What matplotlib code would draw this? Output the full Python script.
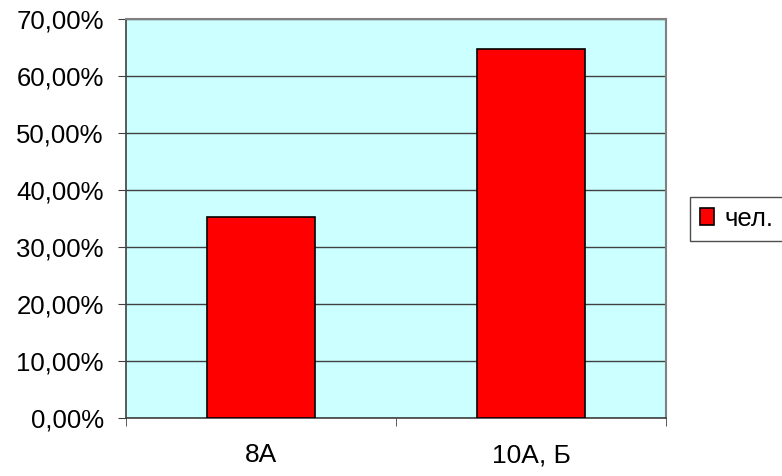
import numpy as np
import matplotlib.pyplot as plt
from matplotlib.ticker import FuncFormatter

categories = ['8А', '10А, Б']
shares = [35.29, 64.71]
series_name = 'чел.'

plt.rcParams['font.family'] = ['Liberation Sans', 'DejaVu Sans']

fig = plt.figure(figsize=(7.82, 4.76), dpi=100)
ax = fig.add_axes([0.1611, 0.1218, 0.6905, 0.8382])
ax.set_facecolor('#ccffff')

x = np.arange(len(categories))
ax.bar(x, shares, width=0.4, color='#ff0000', edgecolor='black', linewidth=1.2,
       label=series_name, zorder=3)

ax.set_xlim(-0.5, len(categories) - 0.5)
ax.set_ylim(0, 70)
ax.set_yticks(np.arange(0, 71, 10))
ax.yaxis.set_major_formatter(FuncFormatter(lambda v, p: f'{v:.2f}%'.replace('.', ',')))
ax.yaxis.grid(True, color='#404040', linewidth=1.0, zorder=1)

# category labels centred, ticks on the category boundaries
ax.set_xticks(x)
ax.set_xticklabels(categories)
ax.set_xticks(np.arange(-0.5, len(categories), 1.0), minor=True)
ax.tick_params(axis='x', which='major', length=0, pad=18, labelsize=19)
ax.tick_params(axis='x', which='minor', length=6, direction='out', color='#404040')
ax.tick_params(axis='y', length=6, direction='out', color='#404040', labelsize=18.5, pad=10)

for side in ['top', 'right']:
    ax.spines[side].set_color('#808080')
    ax.spines[side].set_linewidth(1.5)
for side in ['left', 'bottom']:
    ax.spines[side].set_color('#404040')
    ax.spines[side].set_linewidth(1.2)

leg = fig.legend(loc='upper left', bbox_to_anchor=(690 / 782, 1 - 197 / 476),
                 borderaxespad=0, fontsize=18.5, frameon=True, fancybox=False,
                 handlelength=0.55, handleheight=0.62, handletextpad=0.42,
                 borderpad=0.38)
leg.get_frame().set_edgecolor('#202020')
leg.get_frame().set_linewidth(1.0)

fig.savefig('out.png', dpi=100)
